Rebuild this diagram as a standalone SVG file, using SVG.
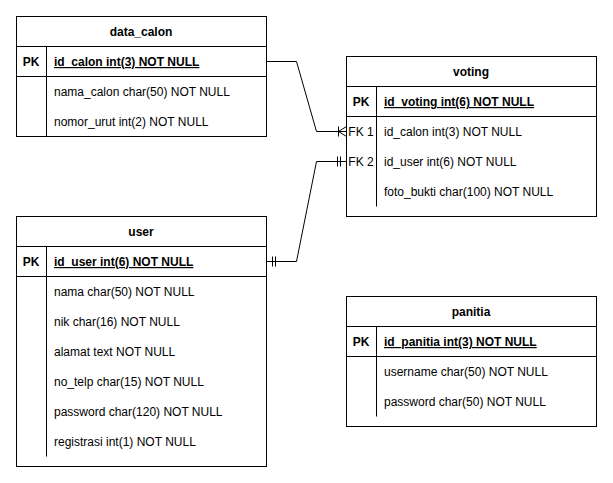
<svg xmlns="http://www.w3.org/2000/svg" width="613" height="483" viewBox="0 0 613 483">
<style>
.box{fill:#fff;stroke:#000;stroke-width:1}
.ln{stroke:#000;stroke-width:1;fill:none}
text{font-family:"Liberation Sans",Arial,sans-serif;font-size:12px;fill:#000}
.t{font-weight:bold;text-anchor:middle}
.pk{font-weight:bold;text-anchor:middle}
.pf{font-weight:bold;text-decoration:underline}
.fk{text-anchor:middle}
</style>
<rect width="613" height="483" fill="#fff"/>
<g id="data_calon">
<rect class="box" x="16.5" y="16.5" width="250" height="120"/>
<line class="ln" x1="16.5" y1="46.5" x2="266.5" y2="46.5"/>
<line class="ln" x1="16.5" y1="76.5" x2="266.5" y2="76.5"/>
<line class="ln" x1="46.5" y1="46.5" x2="46.5" y2="136.5"/>
<text class="t" x="141" y="36">data_calon</text>
<text class="pk" x="31" y="66">PK</text>
<text class="pf" x="54" y="66">id_calon int(3) NOT NULL</text>
<text x="54" y="96">nama_calon char(50) NOT NULL</text>
<text x="54" y="126">nomor_urut int(2) NOT NULL</text>
</g>
<g id="voting">
<rect class="box" x="346.5" y="56.5" width="250" height="160"/>
<line class="ln" x1="346.5" y1="86.5" x2="596.5" y2="86.5"/>
<line class="ln" x1="346.5" y1="116.5" x2="596.5" y2="116.5"/>
<line class="ln" x1="376.5" y1="86.5" x2="376.5" y2="206.5"/>
<text class="t" x="471" y="76">voting</text>
<text class="pk" x="361" y="106">PK</text>
<text class="pf" x="384" y="106">id_voting int(6) NOT NULL</text>
<text class="fk" x="361" y="136">FK 1</text>
<text x="384" y="136">id_calon int(3) NOT NULL</text>
<text class="fk" x="361" y="166">FK 2</text>
<text x="384" y="166">id_user int(6) NOT NULL</text>
<text x="384" y="196">foto_bukti char(100) NOT NULL</text>
</g>
<g id="user">
<rect class="box" x="16.5" y="216.5" width="250" height="250"/>
<line class="ln" x1="16.5" y1="246.5" x2="266.5" y2="246.5"/>
<line class="ln" x1="16.5" y1="276.5" x2="266.5" y2="276.5"/>
<line class="ln" x1="46.5" y1="246.5" x2="46.5" y2="456.5"/>
<text class="t" x="141" y="236">user</text>
<text class="pk" x="31" y="266">PK</text>
<text class="pf" x="54" y="266">id_user int(6) NOT NULL</text>
<text x="54" y="296">nama char(50) NOT NULL</text>
<text x="54" y="326">nik char(16) NOT NULL</text>
<text x="54" y="356">alamat text NOT NULL</text>
<text x="54" y="386">no_telp char(15) NOT NULL</text>
<text x="54" y="416">password char(120) NOT NULL</text>
<text x="54" y="446">registrasi int(1) NOT NULL</text>
</g>
<g id="panitia">
<rect class="box" x="346.5" y="296.5" width="250" height="130"/>
<line class="ln" x1="346.5" y1="326.5" x2="596.5" y2="326.5"/>
<line class="ln" x1="346.5" y1="356.5" x2="596.5" y2="356.5"/>
<line class="ln" x1="376.5" y1="326.5" x2="376.5" y2="416.5"/>
<text class="t" x="471" y="316">panitia</text>
<text class="pk" x="361" y="346">PK</text>
<text class="pf" x="384" y="346">id_panitia int(3) NOT NULL</text>
<text x="384" y="376">username char(50) NOT NULL</text>
<text x="384" y="406">password char(50) NOT NULL</text>
</g>
<g id="connectors">
<polyline class="ln" points="266.5,61.5 296.5,61.5 316.5,131.5 346.5,131.5"/>
<line class="ln" x1="338.5" y1="126.5" x2="338.5" y2="136.5"/>
<line class="ln" x1="338.5" y1="131.5" x2="346.5" y2="126.5"/>
<line class="ln" x1="338.5" y1="131.5" x2="346.5" y2="136.5"/>
<polyline class="ln" points="266.5,261.5 296.5,261.5 316.5,161.5 346.5,161.5"/>
<line class="ln" x1="272.5" y1="256.5" x2="272.5" y2="266.5"/>
<line class="ln" x1="275.5" y1="256.5" x2="275.5" y2="266.5"/>
<line class="ln" x1="337.5" y1="156.5" x2="337.5" y2="166.5"/>
<line class="ln" x1="340.5" y1="156.5" x2="340.5" y2="166.5"/>
</g>
</svg>
